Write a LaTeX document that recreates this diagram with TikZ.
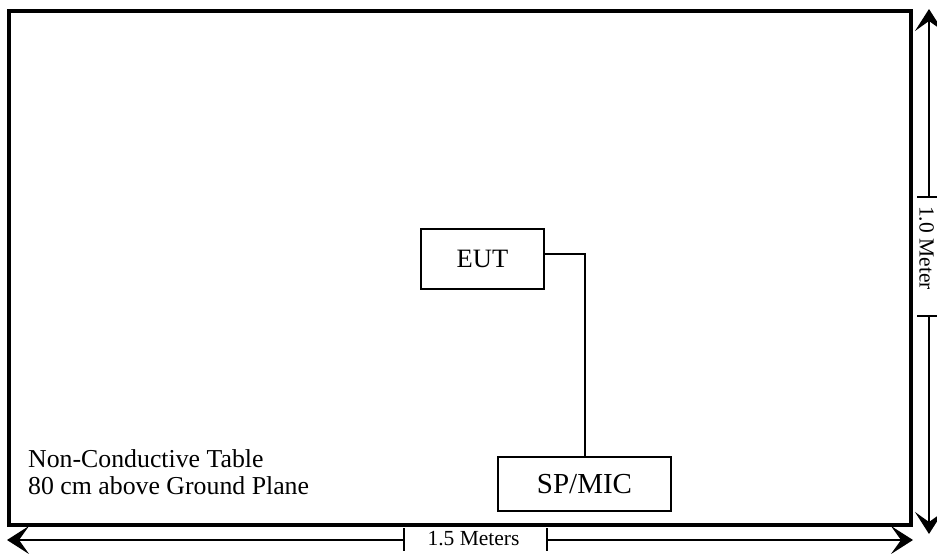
\documentclass[tikz,border=0pt]{standalone}
\usepackage{fontspec}
\setmainfont{Liberation Serif}
\usetikzlibrary{arrows.meta}
\begin{document}
\begin{tikzpicture}[x=1pt,y=-1pt,
  tablebox/.style={draw, line width=3.4pt, inner sep=0pt, minimum width=902pt, minimum height=514pt},
  unitbox/.style={draw, line width=2pt, inner sep=0pt},
  thinline/.style={line width=2pt},
  headL/.style={{Stealth[length=22pt,width=28pt,inset=10pt]}-},
  headR/.style={-{Stealth[length=22pt,width=28pt,inset=10pt]}},
  dimtext/.style={inner sep=0pt, font=\fontsize{21.5}{24}\selectfont}]
\useasboundingbox (0,0) rectangle (937,554);
% table
\node[tablebox] (table) at (460,268) {};
% units
\node[unitbox, minimum width=123pt, minimum height=60pt, font=\fontsize{26.5}{30}\selectfont] (eut) at (482.5,259) {EUT};
\node[unitbox, minimum width=173pt, minimum height=54pt, font=\fontsize{29}{32}\selectfont] (spmic) at (584.5,484) {SP/MIC};
\draw[thinline] ([yshift=5pt]eut.east) -| (spmic.north);
% table label
\node[anchor=north west, align=left, inner sep=0pt, font=\fontsize{25.8}{27}\selectfont] (lbl) at (28,449.5) {Non-Conductive Table\\80 cm above Ground Plane};
% horizontal dimension
\coordinate (hl) at (7,540);
\coordinate (hr) at (913,540);
\coordinate (ht1) at (404,540);
\coordinate (ht2) at (547,540);
\node[dimtext, anchor=base] (hlab) at (473.5,545.7) {1.5 Meters};
\draw[thinline, headL] (hl) -- (ht1);
\draw[thinline, headR] (ht2) -- (hr);
\draw[thinline] ([yshift=12pt]ht1) -- ([yshift=-11pt]ht1);
\draw[thinline] ([yshift=12pt]ht2) -- ([yshift=-11pt]ht2);
% vertical dimension
\coordinate (vt) at (929,9);
\coordinate (vb) at (929,534);
\coordinate (vt1) at (929,197);
\coordinate (vt2) at (929,316);
\node[dimtext, anchor=base, rotate=-90] (vlab) at (919.5,248) {1.0 Meter};
\draw[thinline, headR] (vt1) -- (vt);
\draw[thinline, headR] (vt2) -- (vb);
\draw[thinline] ([xshift=-12pt]vt1) -- ([xshift=10pt]vt1);
\draw[thinline] ([xshift=-12pt]vt2) -- ([xshift=10pt]vt2);
\end{tikzpicture}
\end{document}
